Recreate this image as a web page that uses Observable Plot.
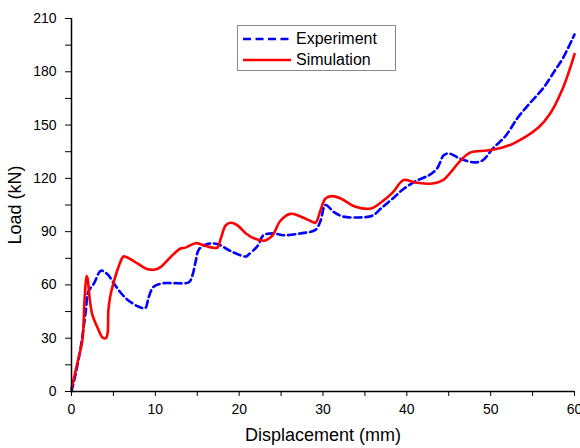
<!DOCTYPE html>
<html>
<head>
<meta charset="utf-8">
<script src="https://cdn.jsdelivr.net/npm/d3@7"></script>
<script src="https://cdn.jsdelivr.net/npm/@observablehq/plot@0.6"></script>
<style>
  html, body { margin: 0; padding: 0; background: #fff; }
  #wrap { position: relative; width: 580px; height: 448px; font-family: "Liberation Sans", Arial, sans-serif; }
  #wrap svg g[aria-label="x-axis label"] text,
  #wrap svg g[aria-label="y-axis label"] text { font-size: 18px; }
  .legend { position: absolute; left: 237px; top: 25px; width: 157px; height: 44px;
            border: 1px solid #8a8a8a; background: #fff; font-size: 16px; color: #000; }
  .legend .row { position: absolute; left: 4px; height: 20px; display: flex; align-items: center; }
  .legend svg { display: block; margin-right: 4px; }
</style>
</head>
<body>
<div id="wrap"></div>
<script>
// Load–displacement curves: test measurement vs. numerical model
const expDisp = [0, 0.5, 1.1, 1.7, 2.0, 2.7, 3.5, 4.3, 4.9, 5.8, 6.6, 7.9, 8.8, 9.2, 9.8, 11, 12.2, 14, 14.4, 14.8, 15.2, 16.2, 17.4, 19, 20.8, 21.1, 22.2, 22.9, 24.1, 25.3, 27.3, 29.1, 29.7, 30.3, 31.3, 32.4, 34.2, 35.9, 36.9, 38.4, 39.6, 41.3, 42.6, 43.6, 44.4, 45, 46.4, 48, 49, 50.3, 51.8, 53.2, 54.8, 56.3, 57.7, 58.6, 60];
const expLoad = [0, 10, 25, 45, 56, 61, 68, 66, 62, 56, 52, 48, 47, 53, 59, 61, 61, 61.5, 65, 73, 80, 83, 83, 79, 76, 77, 82, 88, 89, 88, 89, 91, 96, 105, 101, 98.5, 98, 99, 103, 109, 114, 119, 121.6, 125.5, 133, 134, 131, 129, 130, 137, 144, 154, 163, 171, 181, 187.5, 201];

const simDisp = [0, 0.7, 1.3, 1.55, 1.8, 1.9, 2.2, 2.5, 3.1, 3.7, 4.1, 4.3, 4.4, 4.6, 5, 5.6, 6.2, 6.6, 7.9, 9, 10, 10.6, 11.8, 13, 13.6, 14.8, 15.6, 16.8, 17.4, 17.8, 18.4, 19, 19.8, 20.8, 21.9, 23.1, 24, 24.9, 26.1, 27.1, 28.5, 29.1, 29.7, 30.3, 31.1, 32.1, 33.9, 35.7, 36.9, 38.3, 39.6, 41, 42.8, 44.3, 45.4, 46.4, 47.6, 49.6, 51.4, 52.7, 55.7, 57.1, 58.6, 59.5, 60];
const simLoad = [1.7, 16, 29, 51, 65, 64, 51, 43, 36, 30.4, 30, 32.6, 45.6, 53, 61, 70, 76, 75.6, 72, 69, 68.7, 70, 75.6, 80.5, 81, 83.5, 82.6, 81, 81, 86, 93.5, 95, 93.5, 89, 86, 85, 88, 96, 100, 99, 96, 95, 102, 108.7, 110, 108.7, 104, 103, 106.4, 112, 119, 117.7, 117, 119, 124.4, 130, 134.6, 135.7, 137.4, 139.6, 148.6, 156.5, 170.6, 182.4, 190];

const xTicks = d3.range(0, 61, 5);
const yTicks = d3.range(0, 211, 15);

const experiment = expDisp.map((x, i) => ({x, y: expLoad[i]}));
const simulation = simDisp.map((x, i) => ({x, y: simLoad[i]}));

const chart = Plot.plot({
  width: 580,
  height: 448,
  marginLeft: 71,
  marginRight: 6,
  marginTop: 18,
  marginBottom: 57,
  style: { fontFamily: "'Liberation Sans', Arial, sans-serif", fontSize: "14px", color: "#000", background: "#fff", overflow: "visible" },
  x: { domain: [0, 60] },
  y: { domain: [0, 210] },
  marks: [
    Plot.line(experiment, { x: "x", y: "y", stroke: "#0000ff", strokeWidth: 2.6, strokeDasharray: "7,4", curve: "catmull-rom" }),
    Plot.line(simulation, { x: "x", y: "y", stroke: "#ff0000", strokeWidth: 2.6, curve: "catmull-rom" }),
    Plot.axisX({ ticks: xTicks, tickFormat: d => d % 10 === 0 ? d : "", tickSize: 5, tickPadding: 8,
      label: "Displacement (mm)", labelAnchor: "center", labelArrow: "none", labelOffset: 49 }),
    Plot.axisY({ ticks: yTicks, tickFormat: d => d % 30 === 0 ? d : "", tickSize: 6, tickPadding: 9,
      label: "Load (kN)", labelAnchor: "center", labelArrow: "none", labelOffset: 63 }),
    Plot.ruleY([0], { stroke: "#000", strokeWidth: 1.5 }),
    Plot.ruleX([0], { stroke: "#000", strokeWidth: 1.5 })
  ]
});

const wrap = document.getElementById("wrap");
wrap.appendChild(chart);

// legend box
const legend = document.createElement("div");
legend.className = "legend";
legend.innerHTML = `
  <div class="row" style="top:3px"><svg width="50" height="6"><line x1="1" y1="3" x2="49" y2="3" stroke="#0000ff" stroke-width="2.6" stroke-dasharray="8,4.5"/></svg><span>Experiment</span></div>
  <div class="row" style="top:24px"><svg width="50" height="6"><line x1="1" y1="3" x2="49" y2="3" stroke="#ff0000" stroke-width="2.6"/></svg><span>Simulation</span></div>`;
wrap.appendChild(legend);
</script>
</body>
</html>
